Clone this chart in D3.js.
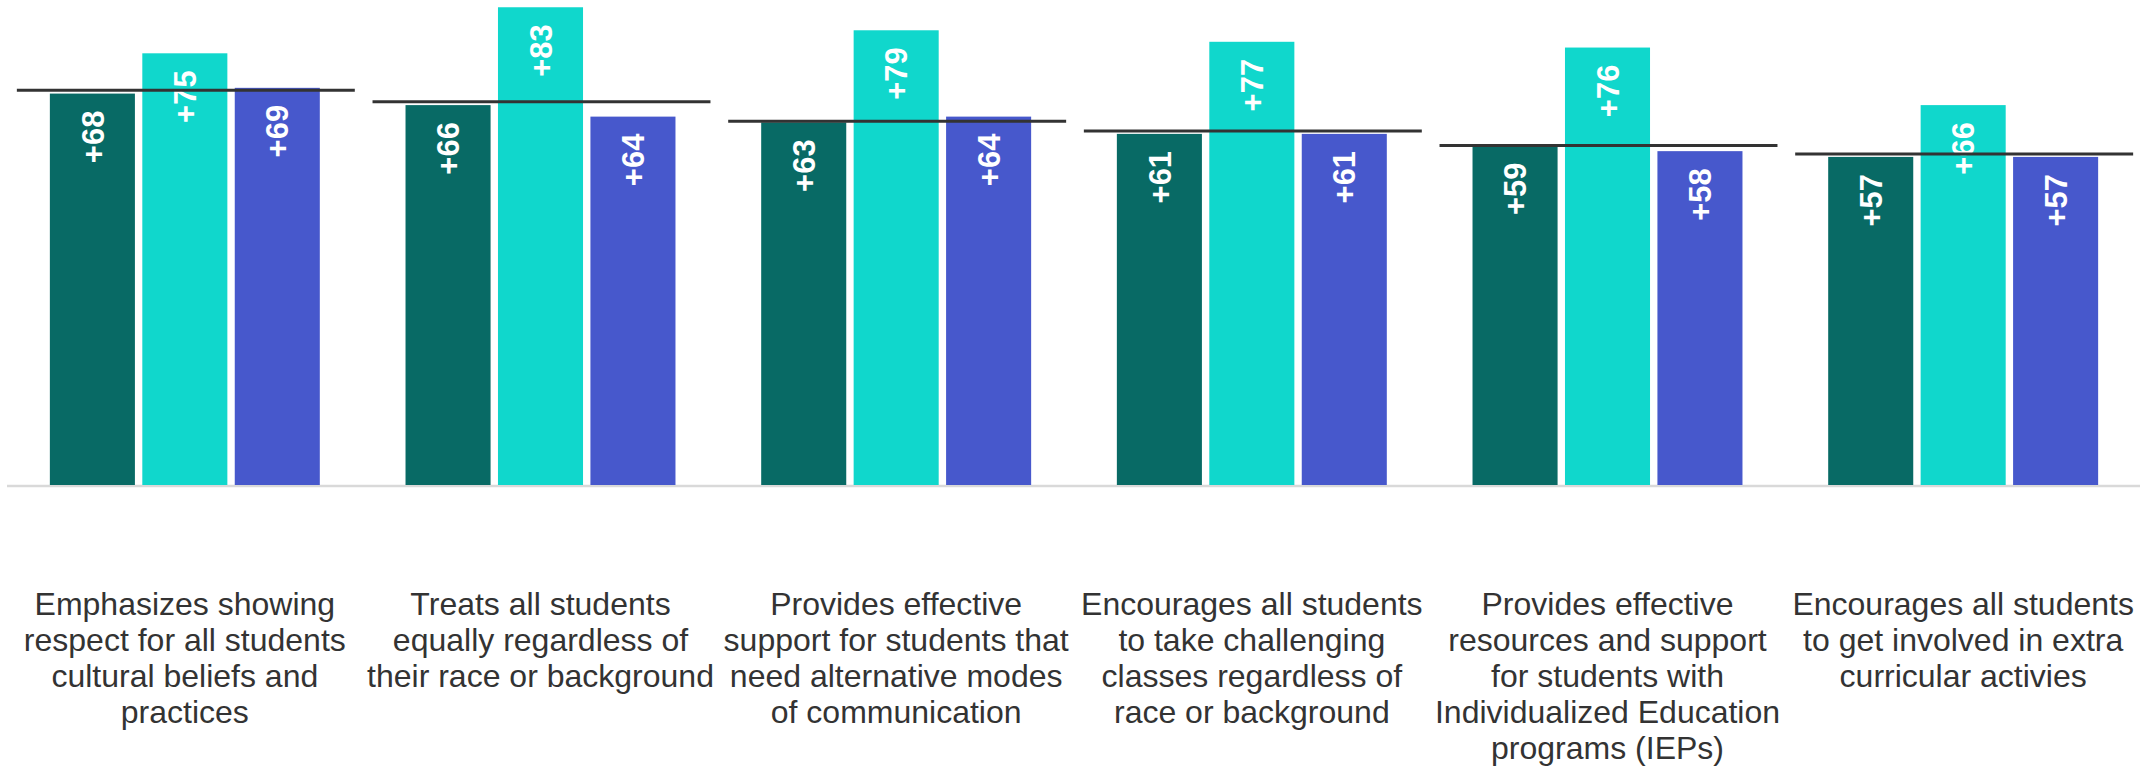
<!DOCTYPE html>
<html>
<head>
<meta charset="utf-8">
<script src="https://cdn.jsdelivr.net/npm/d3@7"></script>
<style>
  html, body { margin: 0; padding: 0; background: #ffffff; }
  svg { display: block; }
</style>
</head>
<body>
<svg id="chart" width="2147" height="768"></svg>
<script>
// ---- data ----
const categories = [
  "Emphasizes showing\nrespect for all students\ncultural beliefs and\npractices",
  "Treats all students\nequally regardless of\ntheir race or background",
  "Provides effective\nsupport for students that\nneed alternative modes\nof communication",
  "Encourages all students\nto take challenging\nclasses regardless of\nrace or background",
  "Provides effective\nresources and support\nfor students with\nIndividualized Education\nprograms (IEPs)",
  "Encourages all students\nto get involved in extra\ncurricular activies"
];
const seriesNames = ["Series A", "Series B", "Series C"];
const seriesA = [68, 66, 63, 61, 59, 57];
const seriesB = [75, 83, 79, 77, 76, 66];
const seriesC = [69, 64, 64, 61, 58, 57];
const benchmark = [68.6, 66.6, 63.2, 61.5, 59.0, 57.5];

// ---- layout ----
const W = 2147, H = 768;
const baseY = 485;
const colors = ["#086a65", "#10d7cc", "#4758cc"];
const seriesValues = [seriesA, seriesB, seriesC];

const svg = d3.select("#chart");

const x0 = d3.scaleBand()
  .domain(d3.range(categories.length))
  .range([7, 2141])
  .paddingInner(0.241)
  .paddingOuter(0.1205);

const x1 = d3.scaleBand()
  .domain(seriesNames)
  .range([0, x0.bandwidth()])
  .paddingInner(0.08);

const y = d3.scaleLinear()
  .domain([0, 84.26])
  .range([baseY, 0]);

// baseline
svg.append("line")
  .attr("x1", 7).attr("x2", 2140)
  .attr("y1", baseY + 1).attr("y2", baseY + 1)
  .attr("stroke", "#d9d9d9").attr("stroke-width", 2.5);

const rows = [];
categories.forEach((c, i) => {
  seriesNames.forEach((s, j) => {
    rows.push({ ci: i, s: s, j: j, v: seriesValues[j][i] });
  });
});

const g = svg.append("g");

g.selectAll("rect.bar").data(rows).join("rect")
  .attr("class", "bar")
  .attr("x", d => x0(d.ci) + x1(d.s))
  .attr("width", x1.bandwidth())
  .attr("y", d => y(d.v))
  .attr("height", d => baseY - y(d.v))
  .attr("fill", d => colors[d.j]);

g.selectAll("text.val").data(rows).join("text")
  .attr("class", "val")
  .attr("transform", d => `translate(${x0(d.ci) + x1(d.s) + x1.bandwidth() / 2},${y(d.v) + 17}) rotate(-90)`)
  .attr("text-anchor", "end")
  .attr("dy", "0.36em")
  .attr("fill", "#ffffff")
  .attr("font-family", "'Liberation Sans', Arial, sans-serif")
  .attr("font-weight", "bold")
  .attr("font-size", 31)
  .text(d => "+" + d.v);

// benchmark lines
svg.append("g").selectAll("line").data(benchmark).join("line")
  .attr("x1", (d, i) => x0(i) - 33)
  .attr("x2", (d, i) => x0(i) + x0.bandwidth() + 35)
  .attr("y1", d => y(d)).attr("y2", d => y(d))
  .attr("stroke", "#333333").attr("stroke-width", 3);

// category labels
const lab = svg.append("g").selectAll("text").data(categories).join("text")
  .attr("x", (d, i) => x0(i) + x0.bandwidth() / 2)
  .attr("y", 615)
  .attr("text-anchor", "middle")
  .attr("fill", "#333333")
  .attr("font-family", "'Liberation Sans', Arial, sans-serif")
  .attr("font-size", 32);

lab.each(function(d, i) {
  const t = d3.select(this);
  d.split("\n").forEach((line, k) => {
    t.append("tspan")
      .attr("x", x0(i) + x0.bandwidth() / 2)
      .attr("y", 615 + k * 36)
      .text(line);
  });
});
</script>
</body>
</html>
